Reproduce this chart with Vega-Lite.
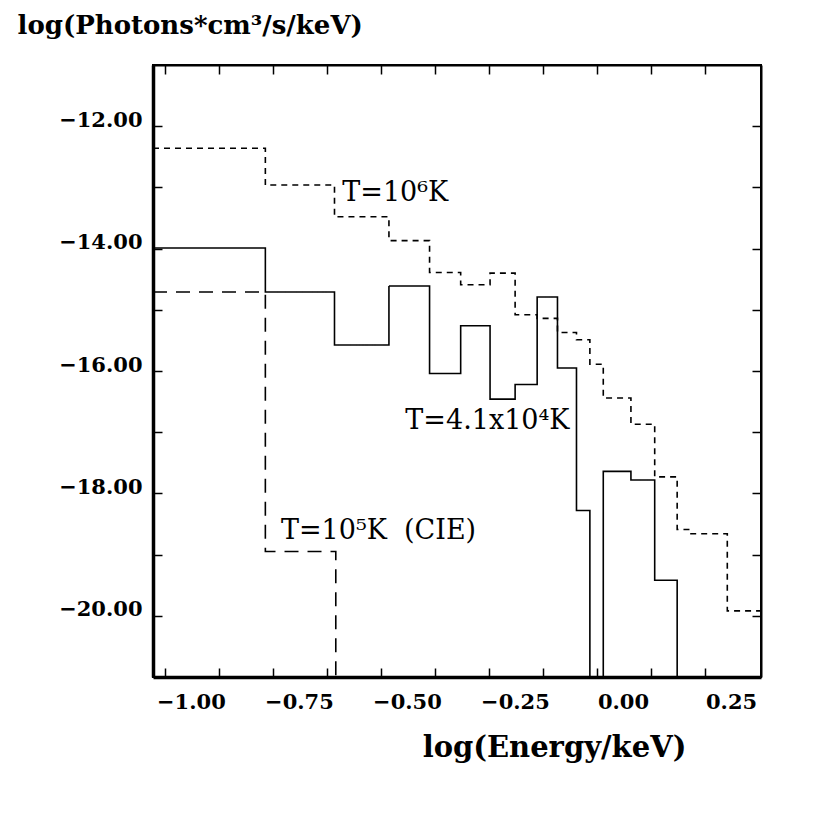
{
  "$schema": "https://vega.github.io/schema/vega-lite/v6.json",
  "autosize": "none",
  "padding": {"left": 153, "top": 65, "right": 69, "bottom": 137},
  "width": 608,
  "height": 612,
  "background": "white",
  "datasets": {
    "spectra": [
      {"series": "T=4.1e4", "x": -1.09, "y": -13.99},
      {"series": "T=4.1e4", "x": -0.83, "y": -14.71},
      {"series": "T=4.1e4", "x": -0.670, "y": -15.575},
      {"series": "T=4.1e4", "x": -0.544, "y": -14.61},
      {"series": "T=4.1e4", "x": -0.450, "y": -16.04},
      {"series": "T=4.1e4", "x": -0.378, "y": -15.26},
      {"series": "T=4.1e4", "x": -0.310, "y": -16.46},
      {"series": "T=4.1e4", "x": -0.252, "y": -16.22},
      {"series": "T=4.1e4", "x": -0.201, "y": -14.79},
      {"series": "T=4.1e4", "x": -0.154, "y": -15.95},
      {"series": "T=4.1e4", "x": -0.110, "y": -18.28},
      {"series": "T=4.1e4", "x": -0.079, "y": -22.5},
      {"series": "T=4.1e4", "x": -0.048, "y": -17.64},
      {"series": "T=4.1e4", "x": 0.016, "y": -17.78},
      {"series": "T=4.1e4", "x": 0.071, "y": -19.42},
      {"series": "T=4.1e4", "x": 0.123, "y": -22.5},
      {"series": "T=1e6", "x": -1.09, "y": -12.36},
      {"series": "T=1e6", "x": -0.83, "y": -12.96},
      {"series": "T=1e6", "x": -0.670, "y": -13.48},
      {"series": "T=1e6", "x": -0.544, "y": -13.87},
      {"series": "T=1e6", "x": -0.450, "y": -14.39},
      {"series": "T=1e6", "x": -0.378, "y": -14.59},
      {"series": "T=1e6", "x": -0.310, "y": -14.40},
      {"series": "T=1e6", "x": -0.252, "y": -15.08},
      {"series": "T=1e6", "x": -0.201, "y": -15.14},
      {"series": "T=1e6", "x": -0.154, "y": -15.37},
      {"series": "T=1e6", "x": -0.110, "y": -15.49},
      {"series": "T=1e6", "x": -0.079, "y": -15.89},
      {"series": "T=1e6", "x": -0.048, "y": -16.44},
      {"series": "T=1e6", "x": 0.016, "y": -16.87},
      {"series": "T=1e6", "x": 0.071, "y": -17.73},
      {"series": "T=1e6", "x": 0.123, "y": -18.59},
      {"series": "T=1e6", "x": 0.153, "y": -18.66},
      {"series": "T=1e6", "x": 0.239, "y": -19.92},
      {"series": "T=1e6", "x": 0.317, "y": -19.92},
      {"series": "T=1e5 CIE", "x": -1.09, "y": -14.71},
      {"series": "T=1e5 CIE", "x": -0.83, "y": -18.95},
      {"series": "T=1e5 CIE", "x": -0.667, "y": -22.5}
    ],
    "labels": [
      {"x": -0.652, "y": -13.23, "text": "T=10⁶K"},
      {"x": -0.506, "y": -16.95, "text": "T=4.1x10⁴K"},
      {"x": -0.794, "y": -18.75, "text": "T=10⁵K\u00a0\u00a0(CIE)"}
    ]
  },
  "layer": [
    {
      "data": {"name": "spectra"},
      "mark": {"type": "line", "interpolate": "step-after", "clip": true, "color": "black", "strokeWidth": 1.6},
      "encoding": {
        "x": {
          "field": "x",
          "type": "quantitative",
          "scale": {"domain": [-1.09, 0.317], "nice": false, "zero": false},
          "axis": {
            "orient": "bottom",
            "values": [-1.0625, -0.9375, -0.8125, -0.6875, -0.5625, -0.4375, -0.3125, -0.1875, -0.0625, 0.0625, 0.1875],
            "labelExpr": "round((datum.value + 0.0625) * 4) == (datum.value + 0.0625) * 4 ? format(datum.value + 0.0625, '.2f') : ''",
            "labelOffset": 26,
            "labelPadding": 23,
            "labelBaseline": "top",
            "tickSize": -9,
            "domainWidth": 3.5,
            "title": "log(Energy/keV)",
            "titleFontSize": 29,
            "titleX": 401,
            "titleY": 79,
            "titleBaseline": "alphabetic"
          }
        },
        "y": {
          "field": "y",
          "type": "quantitative",
          "scale": {"domain": [-21, -11], "nice": false, "zero": false},
          "axis": {
            "orient": "left",
            "values": [-12, -13, -14, -15, -16, -17, -18, -19, -20],
            "labelExpr": "datum.value % 2 == 0 ? format(datum.value, '.2f') : ''",
            "labelBaseline": "alphabetic",
            "labelPadding": 20,
            "tickSize": -9,
            "domainWidth": 3.5,
            "title": "log(Photons*cm³/s/keV)",
            "titleFontSize": 26,
            "titleAngle": 0,
            "titleAlign": "left",
            "titleBaseline": "alphabetic",
            "titleX": -136,
            "titleY": -32
          }
        },
        "detail": {"field": "series"},
        "strokeDash": {
          "field": "series",
          "type": "nominal",
          "scale": {"domain": ["T=4.1e4", "T=1e6", "T=1e5 CIE"], "range": [[1, 0], [6, 5], [14, 9]]},
          "legend": null
        }
      }
    },
    {
      "data": {"name": "labels"},
      "mark": {"type": "text", "align": "left", "baseline": "alphabetic", "font": "DejaVu Serif", "fontSize": 27, "color": "black"},
      "encoding": {
        "x": {
          "field": "x",
          "type": "quantitative",
          "axis": {
            "orient": "top",
            "values": [-1.0625, -0.9375, -0.8125, -0.6875, -0.5625, -0.4375, -0.3125, -0.1875, -0.0625, 0.0625, 0.1875],
            "labels": false,
            "tickSize": -9,
            "domainWidth": 2,
            "title": null
          }
        },
        "y": {
          "field": "y",
          "type": "quantitative",
          "axis": {
            "orient": "right",
            "values": [-12, -13, -14, -15, -16, -17, -18, -19, -20],
            "labels": false,
            "tickSize": -9,
            "domainWidth": 2,
            "title": null
          }
        },
        "text": {"field": "text"}
      }
    }
  ],
  "resolve": {"axis": {"x": "independent", "y": "independent"}},
  "config": {
    "view": {"stroke": "black", "strokeWidth": 2},
    "axis": {
      "grid": false,
      "domainColor": "black",
      "tickColor": "black",
      "tickWidth": 1.5,
      "labelFont": "DejaVu Serif",
      "labelFontWeight": "bold",
      "labelFontSize": 21,
      "labelColor": "black",
      "titleFont": "DejaVu Serif",
      "titleFontWeight": "bold",
      "titleColor": "black"
    }
  }
}
